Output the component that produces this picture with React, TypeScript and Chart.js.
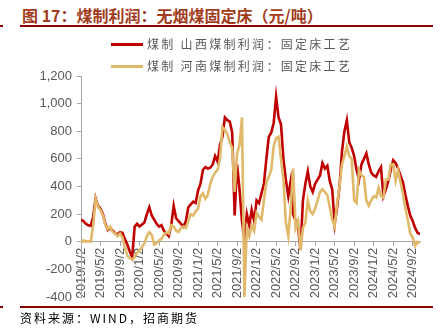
import React, { useEffect, useRef } from "react";
import { Chart, registerables } from "chart.js";

Chart.register(...registerables);

// Tick labels shown on the x axis (one every 8 half-month points)
const tickLabels = [
  "2019/1/2", "2019/5/2", "2019/9/2", "2020/1/2", "2020/5/2", "2020/9/2",
  "2021/1/2", "2021/5/2", "2021/9/2", "2022/1/2", "2022/5/2", "2022/9/2",
  "2023/1/2", "2023/5/2", "2023/9/2", "2024/1/2", "2024/5/2", "2024/9/2",
];
const pointsPerTick = 8;

const seriesNames = [
  "煤制 山西煤制利润：固定床工艺",
  "煤制 河南煤制利润：固定床工艺",
];

// 山西 (half-month samples, 2019/1 – 2024/11)
const shanxi = [
  160, 150, 130, 120, 115, 180, 315, 260, 240, 200,
  130, 85, 100, 80, 60, 55, 70, 65, 20, -20,
  -70, -110, 110, 130, 110, 125, 140, 200, 250, 190,
  160, 130, 110, 120, 80, 60, 40, 120, 260, 170,
  150, 130, 110, 150, 250, 270, 290, 280, 370, 420,
  520, 540, 530, 536, 560, 620, 580, 700, 760, 900,
  880, 870, 790, 190, 560, 380, 150, 20, 200, 120,
  230, 150, 300, 280, 350, 420, 600, 760, 790, 860,
  1050, 900, 850, 600, 450, 330, 440, 200, 150, 100,
  -60, 300, 420, 510, 400, 360, 420, 450, 480, 570,
  530, 550, 440, 380, 130, 250, 400, 650, 800, 880,
  720, 680, 620, 520, 450, 560, 600, 640, 560, 500,
  480, 470, 510, 540, 330, 380, 440, 520, 590, 570,
  530, 480, 430, 340, 260, 190, 150, 100, 65, 55,
];

// 河南
const henan = [
  -10, 10, 0, 5, 0, 120, 310, 250, 230, 190,
  120, 90, 110, 70, 60, 40, 60, 30, -40, -100,
  -120, -130, -110, -80, -60, -40, -10, 40, 70, 50,
  -20, -10, 10, 20, 50, 70, 60, 120, 110, 80,
  70, 100, 110, 100, 150, 200, 190, 220, 240, 330,
  350, 310, 340, 420, 470, 500, 520, 600, 830, 810,
  780, 720, 680, 360, 640, 700, 900, -400, 100, 40,
  120, 80, 210, 180, 160, 300, 430, 470, 520, 690,
  750, 760, 600, 450, 140, 40, 250, 530, 100, 150,
  -60, 100, 140, 300, 220, 200, 240, 300, 360, 380,
  360, 340, 250, 160, 110, 280, 400, 560, 620, 690,
  620, 600, 300, 280, 520, 480, 470, 300, 260, 300,
  330, 320, 390, 330, 320, 450, 450, 560, 560, 440,
  520, 430, 350, 240, 160, 60, 30, -30, 0, -10,
];

const RED = "#C00000";
const GOLD = "#E0B96A";
const AXIS = "#A6A6A6";
const TEXT = "#595959";

export default function App() {
  const ref = useRef<HTMLCanvasElement | null>(null);

  useEffect(() => {
    if (!ref.current) return;
    const chart = new Chart(ref.current, {
      type: "line",
      data: {
        datasets: [
          {
            label: seriesNames[0],
            data: shanxi.map((v, i) => ({ x: i, y: v })),
            borderColor: RED,
            backgroundColor: RED,
            borderWidth: 2.6,
            pointRadius: 0,
            tension: 0,
            order: 1,
          },
          {
            label: seriesNames[1],
            data: henan.map((v, i) => ({ x: i, y: v })),
            borderColor: GOLD,
            backgroundColor: GOLD,
            borderWidth: 2.6,
            pointRadius: 0,
            tension: 0,
            order: 0,
          },
        ],
      },
      options: {
        responsive: false,
        animation: false,
        devicePixelRatio: 1,
        layout: { padding: { left: 0, right: 20, top: 76, bottom: 34 } },
        plugins: {
          legend: { display: false },
          tooltip: { enabled: false },
        },
        scales: {
          x: {
            type: "linear",
            position: { y: 0 } as any,
            min: 0,
            max: shanxi.length - 1,
            afterBuildTicks: (scale: any) => {
              scale.ticks = tickLabels.map((_, k) => ({ value: k * pointsPerTick }));
            },
            grid: {
              display: true,
              drawOnChartArea: false,
              drawTicks: true,
              tickLength: 4,
              color: AXIS,
            },
            border: { display: true, color: AXIS, width: 1 },
            ticks: {
              autoSkip: false,
              minRotation: 90,
              maxRotation: 90,
              padding: 2,
              color: TEXT,
              font: { family: "'Liberation Sans', Arial, sans-serif", size: 13 },
              callback: (_v: any, index: number) => tickLabels[index],
            },
          },
          y: {
            min: -400,
            max: 1200,
            afterFit: (scale: any) => {
              scale.width = 81;
            },
            grid: {
              display: true,
              drawOnChartArea: false,
              drawTicks: true,
              tickLength: 4,
              color: AXIS,
            },
            border: { display: true, color: AXIS, width: 1 },
            ticks: {
              stepSize: 200,
              padding: 5,
              color: TEXT,
              font: { family: "'Liberation Sans', Arial, sans-serif", size: 13 },
            },
          },
        },
      },
    });
    return () => chart.destroy();
  }, []);

  const legendRow = (color: string, text: string, cy: number) => (
    <div style={{ position: "absolute", left: 111, top: cy - 9, height: 18, display: "flex", alignItems: "center" }}>
      <div style={{ width: 32, height: 3, background: color }} />
      <span
        style={{
          marginLeft: 4,
          fontFamily: "'Noto Sans CJK SC', sans-serif",
          fontSize: 12,
          letterSpacing: "2.3px",
          color: TEXT,
          whiteSpace: "nowrap",
          lineHeight: "18px",
        }}
      >
        {text}
      </span>
    </div>
  );

  return (
    <div style={{ position: "fixed", left: 0, top: 0, width: 440, height: 331, background: "#fff", overflow: "hidden" }}>
      <div
        style={{
          position: "absolute",
          left: 22,
          top: 4,
          fontFamily: "'Noto Sans CJK SC', sans-serif",
          fontWeight: 700,
          fontSize: 16,
          lineHeight: "22px",
          color: "#A23C1C",
          whiteSpace: "nowrap",
        }}
      >
        图 17：煤制利润：无烟煤固定床（元/吨）
      </div>
      <div style={{ position: "absolute", left: 0, top: 25, width: 3, height: 2, background: "#8B0000" }} />
      <div style={{ position: "absolute", left: 20, top: 25, width: 413, height: 2, background: "#8B0000" }} />
      <canvas ref={ref} width={440} height={331} style={{ position: "absolute", left: 0, top: 0 }} />
      {legendRow(RED, seriesNames[0], 44)}
      {legendRow(GOLD, seriesNames[1], 66)}
      <div style={{ position: "absolute", left: 0, top: 306, width: 3, height: 2, background: "#8B0000" }} />
      <div style={{ position: "absolute", left: 20, top: 306, width: 413, height: 2, background: "#8B0000" }} />
      <div
        style={{
          position: "absolute",
          left: 20,
          top: 309,
          fontFamily: "'Noto Sans CJK SC', sans-serif",
          fontSize: 12,
          letterSpacing: "2px",
          lineHeight: "18px",
          color: "#000",
          whiteSpace: "nowrap",
        }}
      >
        资料来源：WIND，招商期货
      </div>
    </div>
  );
}
